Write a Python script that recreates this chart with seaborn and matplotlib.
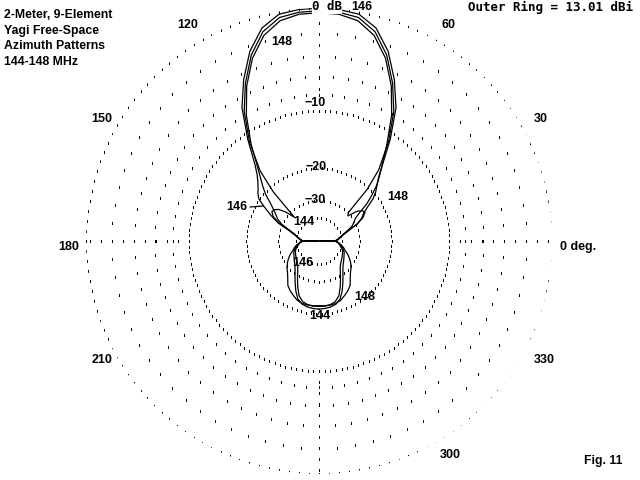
import numpy as np
import pandas as pd
import matplotlib
matplotlib.use("Agg")
import matplotlib.pyplot as plt
import seaborn as sns

# ---------------- data (dB relative to outer ring) ----------------
# off-axis angle from the forward (90 deg) direction
off_axis = [0, 5, 10, 15, 20, 25, 30, 35, 40, 43, 46, 49, 52, 55, 58, 62, 66, 70, 75, 80,
            85, 88, 89, 90, 91, 92, 95, 100, 105, 110, 115, 120, 125, 130, 135, 140, 145,
            150, 155, 160, 165, 170, 175, 180]

# left half (azimuth = 90 + off_axis)
left_144 = [-0.2, -0.25, -0.45, -1.25, -2.8, -5.0, -7.6, -11.2, -16.0, -21.5, -33.0, -28.5,
            -26.0, -24.9, -24.6, -25.8, -28.8, -33.8, -38.0, -40.5, -42.5, -44.0, -45.0, -99,
            -45.0, -44.0, -42.5, -40.5, -39.0, -37.5, -36.5, -35.8, -35.0, -34.0, -33.0, -31.5,
            -29.5, -27.2, -24.8, -22.8, -21.8, -21.4, -21.2, -21.1]
left_146 = [0.0, -0.05, -0.2, -0.95, -2.45, -4.6, -7.1, -10.8, -14.6, -16.2, -17.3, -18.2,
            -18.9, -19.8, -22.0, -25.0, -28.2, -33.5, -38.0, -40.5, -43.0, -44.5, -45.5, -99,
            -45.5, -44.5, -43.0, -41.5, -40.0, -38.5, -37.5, -37.0, -36.3, -35.5, -34.7, -33.5,
            -31.5, -29.0, -26.3, -23.8, -22.5, -22.0, -21.8, -21.8]
left_148 = [-0.35, -0.4, -0.7, -1.55, -3.1, -5.3, -8.1, -11.6, -15.4, -17.2, -18.8, -20.5,
            -22.8, -24.5, -26.0, -27.5, -30.0, -34.5, -38.5, -41.0, -43.5, -45.0, -46.0, -99,
            -46.0, -45.0, -43.0, -40.0, -38.0, -36.5, -34.2, -32.4, -30.8, -29.5, -28.4, -26.9,
            -25.0, -24.0, -23.2, -22.4, -22.0, -21.9, -21.9, -22.0]

# right half (azimuth = 90 - off_axis)
right_144 = [-0.2, -0.25, -0.45, -1.25, -2.8, -5.0, -7.6, -11.2, -15.8, -20.5, -30.0, -31.0,
             -27.0, -25.5, -25.0, -26.5, -29.5, -34.0, -38.0, -40.5, -42.5, -44.0, -45.0, -99,
             -45.0, -44.0, -42.5, -40.5, -39.0, -37.5, -36.5, -35.8, -35.0, -34.0, -33.0, -31.5,
             -29.5, -27.2, -24.8, -22.8, -21.8, -21.4, -21.2, -21.1]
right_146 = [0.0, -0.05, -0.2, -0.95, -2.45, -4.6, -7.1, -10.8, -14.8, -16.8, -18.2, -19.4,
             -21.0, -23.5, -25.5, -27.0, -29.5, -34.0, -38.0, -40.5, -43.0, -44.5, -45.5, -99,
             -45.5, -44.5, -43.0, -41.5, -40.0, -38.5, -37.5, -37.0, -36.3, -35.5, -34.7, -33.5,
             -31.5, -29.0, -26.3, -23.8, -22.5, -22.0, -21.8, -21.8]
right_148 = [-0.35, -0.4, -0.7, -1.55, -3.1, -5.3, -8.1, -11.6, -14.9, -16.6, -18.3, -20.6,
             -23.0, -26.5, -29.0, -30.5, -32.0, -35.0, -38.5, -41.0, -43.5, -45.0, -46.0, -99,
             -46.0, -45.0, -43.0, -40.0, -38.0, -36.5, -34.2, -32.4, -30.8, -29.5, -28.4, -26.9,
             -25.0, -24.0, -23.2, -22.4, -22.0, -21.9, -21.9, -22.0]

freqs = ["144", "146", "148"]
ring_db = [0, -2, -4, -6, -8, -10, -20, -30, -40]
ring_step = [2.5, 5, 5, 5, 5, 2.5, 4, 7.5, 12]
angle_labels = ["0 deg.", "30", "60", "120", "150", "180", "210", "300", "330"]
outer_ring_text = "Outer Ring = 13.01 dBi"


def arrl(db):
    # ARRL log scale: radius factor 0.89 per 2 dB
    return 0.89 ** (-np.asarray(db, dtype=float) / 2.0)


# ---------------- build table ----------------
rows = []
off = np.array(off_axis, dtype=float)
for f, lv, rv in zip(freqs, [left_144, left_146, left_148], [right_144, right_146, right_148]):
    az = np.concatenate([(90 - off)[::-1], (90 + off)[1:]])
    db = np.concatenate([np.array(rv)[::-1], np.array(lv)[1:]])
    for i, (a, d) in enumerate(zip(az, db)):
        rows.append({"freq": f, "order": i, "theta": np.deg2rad(a), "r": float(arrl(d))})
df = pd.DataFrame(rows)

# ---------------- figure ----------------
sns.set_theme(style="white")
W, H = 640, 480
fig = plt.figure(figsize=(6.4, 4.8), dpi=100)
fig.patch.set_facecolor("white")
cx, cy, R = 319, 241, 233
ax = fig.add_axes([(cx - R) / W, (H - cy - R) / H, 2 * R / W, 2 * R / H], projection="polar")
ax.set_ylim(0, 1)
ax.set_facecolor("white")
ax.grid(False)
ax.set_xticks([])
ax.set_yticks([])
ax.spines["polar"].set_visible(False)

# dotted rings
for d, st in zip(ring_db, ring_step):
    th = np.deg2rad(np.arange(0, 360, st))
    ax.plot(th, np.full_like(th, float(arrl(d))), linestyle="none", marker="s",
            ms=0.75, mew=0, color="black")
# dotted axes from -10 dB ring to outer ring
r10 = float(arrl(-10))
for a in [0, 90, 180, 270]:
    rr = np.arange(r10, 1.0, 11.0 / R)
    ax.plot(np.full_like(rr, np.deg2rad(a)), rr, linestyle="none", marker="s",
            ms=0.75, mew=0, color="black")

for f in freqs:
    sub = df[df["freq"] == f].sort_values("order")
    sns.lineplot(data=sub, x="theta", y="r", sort=False, estimator=None, ax=ax,
                 color="black", lw=0.9)
ax.set_xlabel("")
ax.set_ylabel("")
ax.set_ylim(0, 1)


def ftext(x, y, s, ha="center", va="center", font="DejaVu Sans Mono", size=9, **kw):
    fig.text(x / W, 1 - y / H, s, ha=ha, va=va, family=font, fontsize=size,
             fontweight="bold", color="black", **kw)


# title block
title_lines = ["2-Meter, 9-Element", "Yagi Free-Space", "Azimuth Patterns", "144-148 MHz"]
for i, t in enumerate(title_lines):
    ftext(4, 15 + 15.6 * i, t, ha="left", font="Liberation Sans", size=8.8)
ftext(633, 7, outer_ring_text, ha="right", size=9)
ftext(623, 461, "Fig. 11", ha="right", font="Liberation Sans", size=8.8)

# angle labels
pos = {"0 deg.": (560, 247, "left"), "30": (534, 119, "left"), "60": (441, 25, "left"),
       "120": (198, 25, "right"), "150": (112, 119, "right"), "180": (79, 247, "right"),
       "210": (112, 360, "right"), "300": (440, 455, "left"), "330": (534, 360, "left")}
for lab in angle_labels:
    x, y, ha = pos[lab]
    ftext(x, y, lab, ha=ha, font="Liberation Sans", size=9)

# ring labels
ftext(327, 7, "0 dB", size=9, bbox=dict(facecolor="white", edgecolor="none", pad=0.2))
ftext(315, 103, "\u221210", font="Liberation Sans", size=9)
ftext(316, 167, "\u221220", font="Liberation Sans", size=9)
ftext(315, 200, "\u221230", font="Liberation Sans", size=9)

# frequency labels
ftext(362, 7, "146", font="Liberation Sans", size=9)
ftext(282, 42, "148", font="Liberation Sans", size=9)
ftext(237, 207, "146", font="Liberation Sans", size=9)
fig.add_artist(plt.Line2D([250 / W, 263 / W], [1 - 207 / H, 1 - 206 / H], color="black", lw=0.9))
ftext(304, 222, "144", font="Liberation Sans", size=9)
ftext(398, 197, "148", font="Liberation Sans", size=9)
ftext(303, 263, "146", font="Liberation Sans", size=9)
ftext(365, 297, "148", font="Liberation Sans", size=9)
ftext(320, 316, "144", font="Liberation Sans", size=9)

fig.savefig("out.png", dpi=100, facecolor="white")
